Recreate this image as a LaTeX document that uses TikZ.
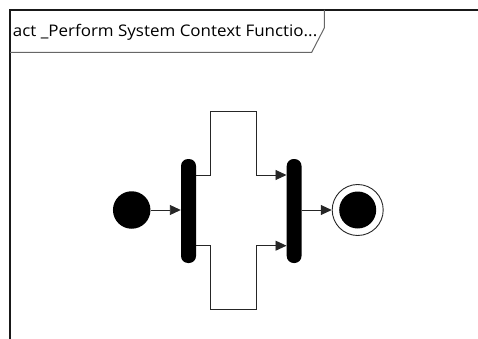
\documentclass[tikz,border=0pt]{standalone}
\usepackage{fontspec}
\setmainfont{Open Sans}
\usetikzlibrary{arrows.meta}
\begin{document}
\begin{tikzpicture}[x=1pt,y=-1pt,
  flow/.style={draw=black!85, line width=0.9pt},
  arr/.style={flow, -{Triangle[length=11pt,width=10pt]}},
  bar/.style={fill=black, rounded corners=7pt, draw=none},
  frameline/.style={draw=black!90, line width=1.6pt},
  tabline/.style={draw=black!60, line width=1pt}]
\useasboundingbox (0,0) rectangle (478,339);
% frame
\draw[frameline] (10,339) -- (10,10) -- (478,10);
\draw[tabline] (10,52.3) -- (311.7,52.3) -- (324.3,28) -- (324.3,10);
\node[anchor=base west, inner sep=0pt, font=\fontsize{16}{18}\selectfont] (title) at (12.7,36.7) {\scalebox{1.06}[1]{act \_Perform System Context Functio...}};
% nodes
\node[circle, fill=black, minimum size=37.5pt, inner sep=0pt] (init) at (131.7,210) {};
\path[bar] (181,159) rectangle (196,263);
\node[inner sep=0pt, minimum width=15pt, minimum height=104pt] (fork) at (188.5,211) {};
\path[bar] (286.7,159) rectangle (301.5,263);
\node[inner sep=0pt, minimum width=14.8pt, minimum height=104pt] (join) at (294.1,211) {};
\node[circle, draw=black!85, line width=0.9pt, minimum size=51pt, inner sep=0pt] (final) at (357.7,210) {};
\node[circle, fill=black, minimum size=37pt, inner sep=0pt] (finalin) at (final.center) {};
% connectors
\draw[arr] (init.east) -- (fork.west |- init.east);
\coordinate (t1) at (210,175);
\coordinate (t2) at (256.7,111.7);
\coordinate (b1) at (210,245.7);
\coordinate (b2) at (256.7,309);
\draw[arr] (fork.east |- t1) -- (t1) -- (t1 |- t2) -- (t2) -- (t2 |- t1) -- (join.west |- t1);
\draw[arr] (fork.east |- b1) -- (b1) -- (b1 |- b2) -- (b2) -- (b2 |- b1) -- (join.west |- b1);
\draw[arr] (join.east |- final.west) -- (final.west);
\end{tikzpicture}
\end{document}
